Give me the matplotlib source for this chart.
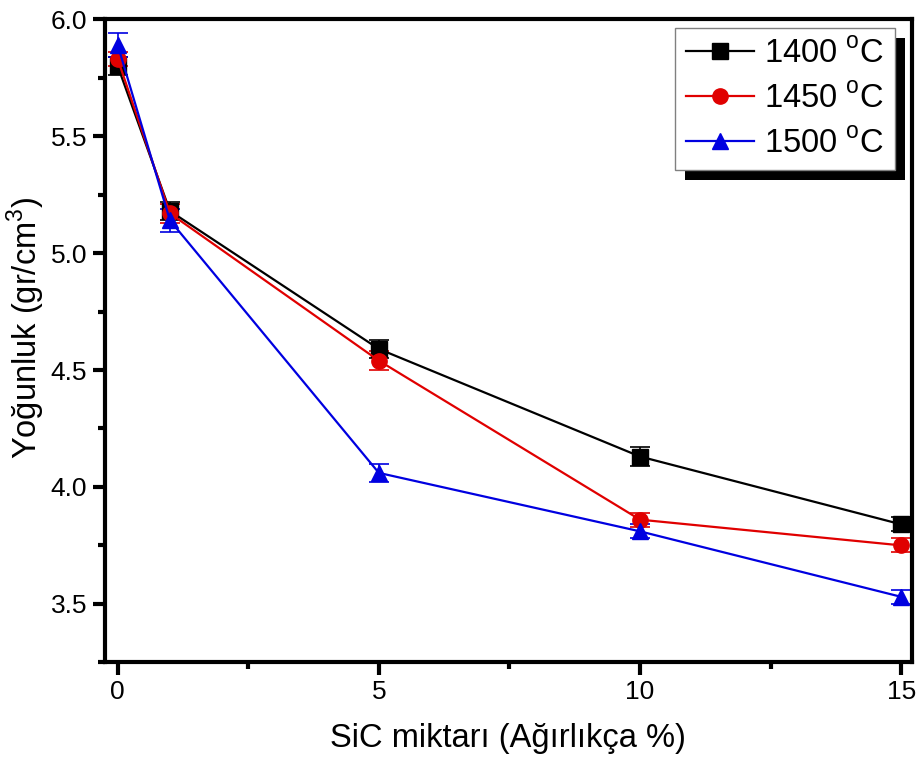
import matplotlib
matplotlib.use("Agg")
import matplotlib.pyplot as plt
from matplotlib.patches import Rectangle
from matplotlib.lines import Line2D
from matplotlib.ticker import MultipleLocator, FormatStrFormatter

# Veriler
sic = [0, 1, 5, 10, 15]
d1400 = [5.80, 5.18, 4.59, 4.13, 3.84]
d1450 = [5.83, 5.17, 4.54, 3.86, 3.75]
d1500 = [5.89, 5.14, 4.06, 3.81, 3.53]
e1400 = [0.04, 0.04, 0.04, 0.04, 0.03]
e1450 = [0.03, 0.04, 0.04, 0.03, 0.03]
e1500 = [0.05, 0.05, 0.04, 0.03, 0.03]
etiketler = ["1400 $^{\\mathrm{o}}$C", "1450 $^{\\mathrm{o}}$C", "1500 $^{\\mathrm{o}}$C"]

plt.rcParams["font.family"] = ["Liberation Sans", "DejaVu Sans"]
plt.rcParams["mathtext.fontset"] = "custom"
plt.rcParams["mathtext.rm"] = "Liberation Sans"

fig = plt.figure(figsize=(9.18, 7.71), dpi=100)
ax = fig.add_axes([0.114, 0.141, 0.879, 0.834])

seriler = [(d1400, e1400, "black", "s"),
           (d1450, e1450, "#e00000", "o"),
           (d1500, e1500, "#0000e0", "^")]
tutamaclar = []
for (y, e, c, m), lab in zip(seriler, etiketler):
    ax.errorbar(sic, y, yerr=e, color=c, marker=m, markersize=11,
                linewidth=1.6, elinewidth=1.2, capsize=7, capthick=1.2)
    tutamaclar.append(Line2D([], [], color=c, marker=m, markersize=11,
                             linewidth=1.6, label=lab))

ax.set_xlim(-0.25, 15.2)
ax.set_ylim(3.25, 6.0)
ax.xaxis.set_major_locator(MultipleLocator(5))
ax.xaxis.set_minor_locator(MultipleLocator(2.5))
ax.yaxis.set_major_locator(MultipleLocator(0.5))
ax.yaxis.set_minor_locator(MultipleLocator(0.25))
ax.yaxis.set_major_formatter(FormatStrFormatter("%.1f"))
ax.tick_params(which="major", direction="out", length=9, width=3, labelsize=19)
ax.tick_params(which="minor", direction="out", length=5, width=3)
for s in ax.spines.values():
    s.set_linewidth(3)

ax.set_xlabel("SiC miktar\u0131 (A\u011f\u0131rl\u0131k\u00e7a %)", fontsize=23.5, labelpad=14)
ax.set_ylabel("Yo\u011funluk (gr/cm$^3$)", fontsize=23.5)
ax.yaxis.set_label_coords(-0.072, 0.52)

leg = ax.legend(handles=tutamaclar, loc="upper right", bbox_to_anchor=(0.979, 0.986),
                borderaxespad=0, fontsize=23.5, fancybox=False, edgecolor="gray",
                framealpha=1, handlelength=2.1, borderpad=0.32, labelspacing=0.43,
                handletextpad=0.3)
leg.get_frame().set_linewidth(1)

# legend golgesi (kalin siyah, sag-alt)
fig.canvas.draw()
bb = leg.get_window_extent(fig.canvas.get_renderer())
inv = fig.transFigure.inverted()
(x0, y0), (x1, y1) = inv.transform([[bb.x0 + 10, bb.y0 - 10], [bb.x1 + 10, bb.y1 - 10]])
fig.patches.append(Rectangle((x0, y0), x1 - x0, y1 - y0, transform=fig.transFigure,
                             facecolor="black", edgecolor="none", zorder=1))
leg.set_zorder(10)
ax.set_zorder(2)
ax.patch.set_alpha(0)

fig.savefig("out.png", dpi=100)
